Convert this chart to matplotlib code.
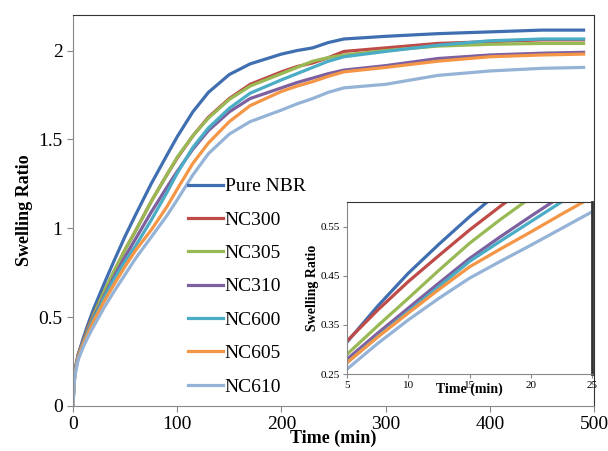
import matplotlib.pyplot as plt

# main curve data (time in min, swelling ratio)
t = [0, 1, 2.5, 5, 10, 15, 20, 30, 40, 50, 60, 75, 90, 100, 115, 130, 150, 170,
     200, 215, 230, 245, 260, 300, 350, 400, 450, 490]

pure_nbr = [0, 0.15, 0.22, 0.29, 0.385, 0.47, 0.55, 0.69, 0.825, 0.955, 1.075, 1.25, 1.41, 1.515,
            1.655, 1.765, 1.865, 1.925, 1.98, 2.0, 2.015, 2.045, 2.065, 2.08, 2.095, 2.105, 2.115, 2.115]
nc300 = [0, 0.15, 0.22, 0.29, 0.37, 0.45, 0.52, 0.645, 0.765, 0.88, 0.985, 1.15, 1.3, 1.395,
         1.52, 1.625, 1.73, 1.81, 1.88, 1.91, 1.93, 1.96, 1.995, 2.015, 2.04, 2.05, 2.06, 2.06]
nc305 = [0, 0.14, 0.21, 0.28, 0.365, 0.44, 0.515, 0.645, 0.765, 0.88, 0.985, 1.15, 1.3, 1.4,
         1.52, 1.62, 1.725, 1.8, 1.87, 1.905, 1.94, 1.96, 1.975, 2.0, 2.025, 2.035, 2.04, 2.04]
nc310 = [0, 0.14, 0.21, 0.275, 0.36, 0.43, 0.5, 0.62, 0.735, 0.84, 0.94, 1.09, 1.23, 1.32,
         1.445, 1.55, 1.655, 1.73, 1.79, 1.82, 1.845, 1.87, 1.89, 1.915, 1.955, 1.975, 1.985, 1.99]
nc600 = [0, 0.14, 0.21, 0.275, 0.355, 0.425, 0.49, 0.61, 0.72, 0.815, 0.9, 1.045, 1.2, 1.31,
         1.455, 1.565, 1.675, 1.76, 1.835, 1.87, 1.905, 1.94, 1.965, 1.995, 2.03, 2.055, 2.065, 2.065]
nc605 = [0, 0.13, 0.2, 0.27, 0.35, 0.415, 0.48, 0.59, 0.69, 0.785, 0.875, 0.99, 1.12, 1.22,
         1.365, 1.48, 1.6, 1.69, 1.77, 1.8, 1.825, 1.855, 1.88, 1.905, 1.94, 1.965, 1.975, 1.98]
nc610 = [0, 0.12, 0.19, 0.26, 0.335, 0.395, 0.45, 0.555, 0.65, 0.74, 0.83, 0.95, 1.07, 1.16,
         1.3, 1.42, 1.53, 1.6, 1.665, 1.7, 1.73, 1.765, 1.79, 1.81, 1.86, 1.885, 1.9, 1.905]

# inset data (5-25 min)
t_in = [5, 7.5, 10, 12.5, 15, 17.5, 20, 22.5, 25]
pure_nbr_in = [0.315, 0.388, 0.455, 0.514, 0.570, 0.622, 0.672, 0.72, 0.765]
nc300_in = [0.317, 0.38, 0.438, 0.491, 0.543, 0.591, 0.637, 0.68, 0.72]
nc305_in = [0.29, 0.348, 0.404, 0.461, 0.516, 0.564, 0.609, 0.652, 0.693]
nc310_in = [0.28, 0.333, 0.384, 0.435, 0.485, 0.529, 0.571, 0.612, 0.65]
nc600_in = [0.273, 0.326, 0.377, 0.428, 0.479, 0.52, 0.56, 0.60, 0.638]
nc605_in = [0.273, 0.325, 0.374, 0.422, 0.468, 0.504, 0.539, 0.575, 0.61]
nc610_in = [0.26, 0.312, 0.36, 0.404, 0.445, 0.479, 0.512, 0.546, 0.58]

labels = ["Pure NBR", "NC300", "NC305", "NC310", "NC600", "NC605", "NC610"]
colors = ["#3F6FB0", "#BE4B48", "#98B954", "#7D60A0", "#4AACC5", "#F59646", "#95B3D7"]
main_series = [pure_nbr, nc300, nc305, nc310, nc600, nc605, nc610]
inset_series = [pure_nbr_in, nc300_in, nc305_in, nc310_in, nc600_in, nc605_in, nc610_in]

plt.rcParams['font.family'] = ['Liberation Serif', 'DejaVu Serif']

fig = plt.figure(figsize=(6.08, 4.51), dpi=100)
ax = fig.add_axes([73 / 608, 45 / 451, 521 / 608, 391 / 451])

for y, c, lab in zip(main_series, colors, labels):
    ax.plot(t, y, color=c, lw=2.3, label=lab)

ax.set_xlim(0, 500)
ax.set_ylim(0, 2.2)
ax.set_xticks([0, 100, 200, 300, 400, 500])
ax.set_yticks([0, 0.5, 1, 1.5, 2])
ax.set_yticklabels(["0", "0.5", "1", "1.5", "2"])
ax.tick_params(labelsize=14, color="#888888", length=4, direction="out")
ax.tick_params(axis="x", pad=3)
for s in ["left", "bottom"]:
    ax.spines[s].set_color("#888888")
for s in ["top", "right"]:
    ax.spines[s].set_color("#333333")
ax.set_xlabel("Time (min)", fontsize=13, fontweight="bold", labelpad=-2)
ax.set_ylabel("Swelling Ratio", fontsize=13, fontweight="bold", labelpad=4)

ax.legend(loc="upper left", bbox_to_anchor=(178 / 608, 1 - 168 / 451),
          bbox_transform=fig.transFigure, frameon=False, fontsize=14,
          handlelength=1.8, handletextpad=0.1, labelspacing=0.81, borderpad=0)

# inset
axi = fig.add_axes([347 / 608, 77 / 451, 245 / 608, 172 / 451])
for y, c in zip(inset_series, colors):
    axi.plot(t_in, y, color=c, lw=2.3)
axi.set_xlim(5, 25)
axi.set_ylim(0.25, 0.6)
axi.set_xticks([5, 10, 15, 20, 25])
axi.set_yticks([0.25, 0.35, 0.45, 0.55])
axi.tick_params(labelsize=8, color="#888888", length=3, direction="out", pad=2)
for s in ["left", "bottom"]:
    axi.spines[s].set_color("#888888")
for s in ["top", "right"]:
    axi.spines[s].set_color("#333333")
axi.spines["right"].set_linewidth(2)
axi.set_xlabel("Time (min)", fontsize=10, fontweight="bold", labelpad=-5)
axi.set_ylabel("Swelling Ratio", fontsize=10, fontweight="bold", labelpad=1)

fig.savefig("out.png", dpi=100)
